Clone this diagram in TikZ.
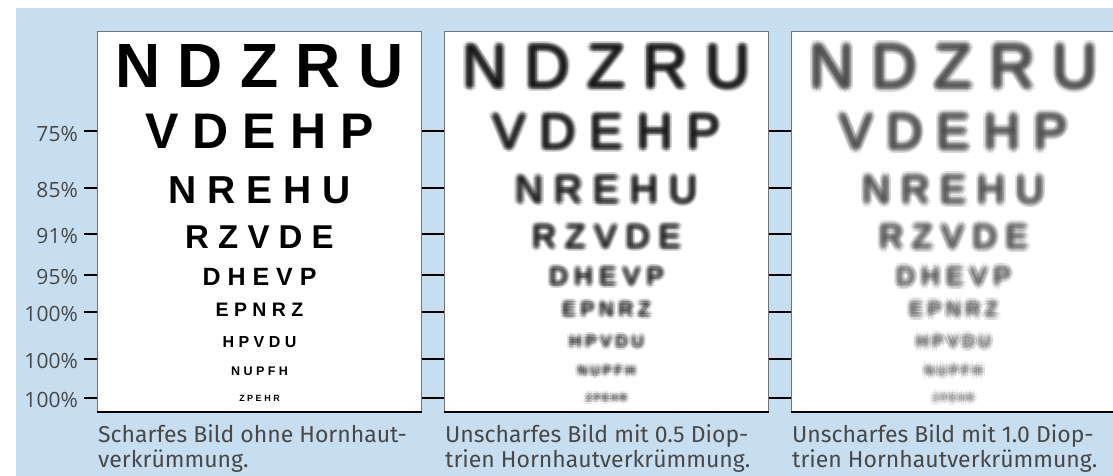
\documentclass[tikz,border=0pt]{standalone}
\usepackage{fontspec}
\setmainfont{Fira Sans}
\newfontfamily\sloan{Liberation Sans}
\newfontfamily\skala{Open Sans}
\usetikzlibrary{positioning}
\definecolor{hgblau}{RGB}{199,222,240}
\definecolor{rahmen}{RGB}{112,116,122}
\definecolor{schrift}{RGB}{72,72,72}
\tikzstyle{tafel} = [rectangle, draw=rahmen, line width=1pt, fill=white, minimum width=324pt, minimum height=380pt, inner sep=0pt, anchor=north west]
\tikzstyle{zeile} = [anchor=base, inner sep=0pt]
\tikzstyle{unscharf} = [zeile, text=black, text opacity=0.09]
\tikzstyle{sehrunscharf} = [zeile, text=black!75, text opacity=0.1]
\tikzstyle{prozent} = [inner sep=0pt, anchor=base east, text=schrift, font=\skala\fontsize{21}{21}\selectfont]
\tikzstyle{strich} = [line width=1.2pt]
\tikzstyle{unterschrift} = [align=left, inner sep=0pt, text=schrift, font=\fontsize{23}{25}\selectfont]

\begin{document}
\begin{tikzpicture}[x=1pt, y=-1pt]
\useasboundingbox (0,0) rectangle (1113,476);
\fill[hgblau] (16,8) rectangle (1113,476);

% Striche
\foreach \hoehe [count=\i] in {131, 188, 234, 275, 312, 359, 398} {
  \coordinate (t\i) at (84,\hoehe);
  \coordinate (s\i) at (1113,\hoehe);
  \draw[strich] (t\i) -- (s\i);
}

% Prozente
\node (p1) [prozent] at (78,141) {75\%};
\node (p2) [prozent] at (78,197) {85\%};
\node (p3) [prozent] at (78,243) {91\%};
\node (p4) [prozent] at (78,284) {95\%};
\node (p5) [prozent] at (78,321) {100\%};
\node (p6) [prozent] at (78,368) {100\%};
\node (p7) [prozent] at (78,407) {100\%};

% Tafeln
\node (chart1) [tafel] at (97,31) {};
\node (chart2) [tafel] at (444,31) {};
\node (chart3) [tafel] at (791,31) {};
\foreach \c in {chart1, chart2, chart3}
  \draw[line width=1.2pt] (\c.south west) -- (\c.south east);

% Buchstaben
\foreach \s/\b/\t [count=\r] in {62.5/88/N D Z R U, 50/149/V D E H P, 39/203/N R E H U, 33/248/R Z V D E, 25/285/D H E V P, 19.5/316/E P N R Z, 16/347/H P V D U, 12.5/375/N U P F H, 9/401/Z P E H R} {
  \node (a\r) [zeile, font=\sloan\bfseries\fontsize{\s}{\s}\selectfont] at (chart1.north |- 0,\b) {\t};
  \node (b\r) [unscharf, font=\sloan\fontsize{\s}{\s}\selectfont] at (chart2.north |- 0,\b) {\t};
  \node (c\r) [sehrunscharf, font=\sloan\fontsize{\s}{\s}\selectfont] at (chart3.north |- 0,\b) {\t};
  \foreach \w [count=\k] in {0,45,...,315} {
    \foreach \d [count=\m] in {1,2,3} {
      \node (b\r-\k-\m) [unscharf, font=\sloan\fontsize{\s}{\s}\selectfont, shift={(\w+22*\m:1.3*\d)}] at (chart2.north |- 0,\b) {\t};
      \node (c\r-\k-\m) [sehrunscharf, font=\sloan\fontsize{\s}{\s}\selectfont, shift={(\w+22*\m:1.5*\d)}] at (chart3.north |- 0,\b) {\t};
    }
  }
}

% Unterschriften
\node (u1) [unterschrift, below right=12pt and 1pt of chart1.south west] {Scharfes Bild ohne Hornhaut-\\verkrümmung.};
\node (u2) [unterschrift, below right=12pt and 1pt of chart2.south west] {Unscharfes Bild mit 0.5 Diop-\\trien Hornhautverkrümmung.};
\node (u3) [unterschrift, below right=12pt and 1pt of chart3.south west] {Unscharfes Bild mit 1.0 Diop-\\trien Hornhautverkrümmung.};

\end{tikzpicture}
\end{document}
